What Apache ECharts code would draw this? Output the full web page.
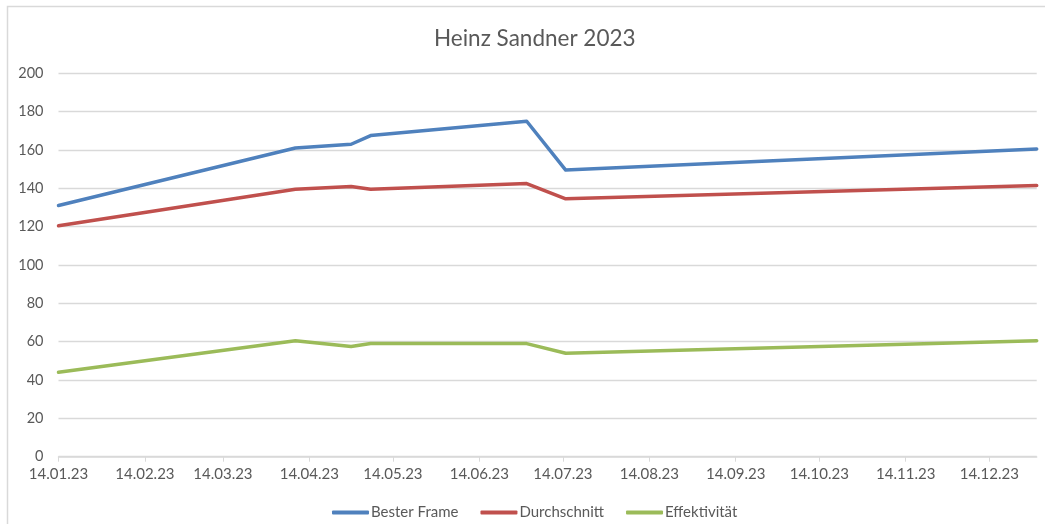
<!DOCTYPE html>
<html><head><meta charset="utf-8">
<script src="https://cdn.jsdelivr.net/npm/echarts@6/dist/echarts.min.js"></script>
<style>html,body{margin:0;padding:0;background:#fff}#c{width:1045px;height:524px}</style>
</head><body><div id="c"></div>
<script>
const title = 'Heinz Sandner 2023';
const seriesNames = ['Bester Frame', 'Durchschnitt', 'Effektivität'];
const dates = ['2023-01-14','2023-04-09','2023-04-29','2023-05-06','2023-07-01','2023-07-15','2023-12-31'];
const besterFrame = [131, 161, 163, 167.5, 175, 149.5, 160.5];
const durchschnitt = [120.5, 139.5, 141, 139.5, 142.5, 134.5, 141.5];
const effektivitaet = [44, 60.5, 57.5, 59, 59, 54, 60.5];
const tickDates = ['2023-01-14','2023-02-14','2023-03-14','2023-04-14','2023-05-14','2023-06-14','2023-07-14','2023-08-14','2023-09-14','2023-10-14','2023-11-14','2023-12-14'];
const colors = ['#4F81BD', '#C0504D', '#9BBB59'];

const DAY = 86400000;
function utc(s){ const p = s.split('-'); return Date.UTC(+p[0], +p[1]-1, +p[2]); }
const t0 = utc(dates[0]);
function dayNo(s){ return Math.round((utc(s) - t0) / DAY); }
function fmt(v){ const d = new Date(t0 + Math.round(v) * DAY); const z = n => (n<10?'0':'')+n; return z(d.getUTCDate())+'.'+z(d.getUTCMonth()+1)+'.'+String(d.getUTCFullYear()).slice(2); }
const tickDays = tickDates.map(dayNo);
const font = 'Lato, "Open Sans", sans-serif';
const txt = '#595959';

const chart = echarts.init(document.getElementById('c'), null, {renderer:'canvas'});
const valuesList = [besterFrame, durchschnitt, effektivitaet];
chart.setOption({
  animation: false,
  backgroundColor: '#fff',
  color: colors,
  graphic: [{type:'rect', z:-1, silent:true, shape:{x:7.5, y:6.5, width:1060, height:540}, style:{fill:'none', stroke:'#d9d9d9', lineWidth:1.5}}],
  title: {text: title, left: 429, top: 22, textStyle:{fontFamily:font, fontSize:22.5, fontWeight:'normal', color:txt}},
  legend: {bottom: -1, left: 327, icon: 'roundRect', itemWidth: 37, itemHeight: 4, itemGap: 22,
    textStyle:{fontFamily:font, fontSize:15, color:txt, padding:[0,0,0,-3]}, data: seriesNames},
  grid: {left: 58.5, right: 8.3, top: 73.3, bottom: 67.3, containLabel: false},
  xAxis: {type:'value', min: 0, max: dayNo(dates[dates.length-1]),
    axisLine:{show:true, lineStyle:{color:'#d9d9d9', width:1.5}},
    axisTick:{show:true, length:5, lineStyle:{color:'#d9d9d9'}, customValues: tickDays},
    axisLabel:{customValues: tickDays, formatter: v => fmt(v), fontFamily:font, fontSize:15, color:txt, margin:10},
    splitLine:{show:false}},
  yAxis: {type:'value', min:0, max:200, interval:20,
    axisLine:{show:false}, axisTick:{show:false},
    axisLabel:{fontFamily:font, fontSize:14.5, color:txt, margin:15},
    splitLine:{lineStyle:{color:'#d9d9d9', width:1.3}}},
  series: seriesNames.map((n, i) => ({
    name: n, type:'line', symbol:'none', smooth:false,
    lineStyle:{width:3.5, color: colors[i], cap:'round', join:'round'},
    itemStyle:{color: colors[i]},
    data: dates.map((d, k) => [dayNo(d), valuesList[i][k]])
  }))
});
</script></body></html>
